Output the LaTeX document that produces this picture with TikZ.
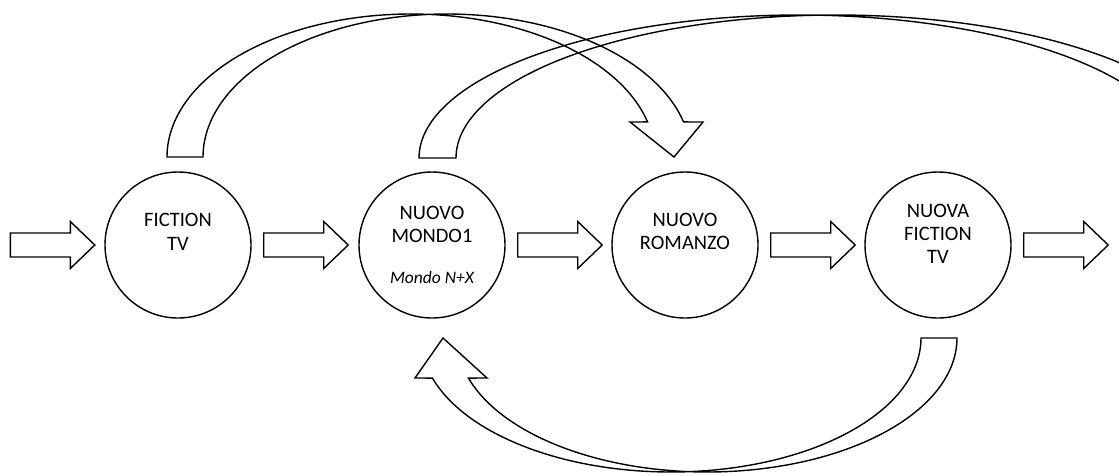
\documentclass[tikz,border=0pt]{standalone}
\usepackage{fontspec}
\setmainfont{Carlito}
\begin{document}
\begin{tikzpicture}[x=1pt,y=-1pt, line width=1.4pt, line join=miter,
  circ/.style={draw, circle, minimum size=146pt, inner sep=0pt},
  lbl/.style={anchor=base, font=\fontsize{20.5}{24}\selectfont, inner sep=0pt},
  sublbl/.style={anchor=base, font=\fontsize{17.5}{21}\selectfont\itshape, inner sep=0pt},
  blockarrow/.style={draw},
  bandarrow/.style={draw}]
\useasboundingbox (0,0) rectangle (1119,475);

% circles
\node[circ] (c1) at (178,245) {};
\node[circ] (c2) at (432,245) {};
\node[circ] (c3) at (685,245) {};
\node[circ] (c4) at (938,245) {};

% labels
\node[lbl] (t1a) at (178,226) {FICTION};
\node[lbl] (t1b) at (178,250) {TV};
\node[lbl] (t2a) at (432,219) {NUOVO};
\node[lbl] (t2b) at (432,242) {MONDO1};
\node[sublbl] (t2c) at (432,283) {Mondo N+X};
\node[lbl] (t3a) at (685,226) {NUOVO};
\node[lbl] (t3b) at (685,249) {ROMANZO};
\node[lbl] (t4a) at (938,217) {NUOVA};
\node[lbl] (t4b) at (938,240) {FICTION};
\node[lbl] (t4c) at (938,263) {TV};

% straight block arrows
\newcommand{\blockarr}[1]{\draw[blockarrow] (#1) ++(0,12) -- ++(60,0) -- ++(0,11.5) -- ++(24.5,-23.5) -- ++(-24.5,-23.5) -- ++(0,11.5) -- ++(-60,0) -- cycle;}
\coordinate (a0) at ([xshift=-94pt]c1.west);
\coordinate (a1) at ([xshift=12pt]c1.east);
\coordinate (a2) at ([xshift=12pt]c2.east);
\coordinate (a3) at ([xshift=12pt]c3.east);
\coordinate (a4) at ([xshift=12pt]c4.east);
\blockarr{a0}
\blockarr{a1}
\blockarr{a2}
\blockarr{a3}
\blockarr{a4}

% curved arrow: FICTION TV -> NUOVO ROMANZO
\draw[bandarrow] plot[domain=180:14.2, samples=100, smooth] ({411+244*cos(\x)},{157-143*sin(\x)})
  -- (630,122) -- (674,157) -- (703,122)
  -- plot[domain=14.2:180, samples=100, smooth] ({447+244*cos(\x)},{157-143*sin(\x)}) -- cycle;

% curved arrow: NUOVO MONDO1 -> (off picture, right)
\begin{scope}
\clip (0,0) rectangle (1119,475);
\draw[bandarrow] plot[domain=180:20, samples=120, smooth] ({799+380*cos(\x)},{158-143*sin(\x)})
  -- plot[domain=20:180, samples=120, smooth] ({836+380*cos(\x)},{158-143*sin(\x)}) -- cycle;
\end{scope}

% curved arrow: NUOVA FICTION TV -> NUOVO MONDO1 (below)
\draw[bandarrow] plot[domain=0:162.6, samples=100, smooth] ({707+250*cos(\x)},{338+134*sin(\x)})
  -- (487,378) -- (443,338) -- (415,378)
  -- plot[domain=162.6:0, samples=100, smooth] ({671+250*cos(\x)},{338+134*sin(\x)}) -- cycle;
\end{tikzpicture}
\end{document}
